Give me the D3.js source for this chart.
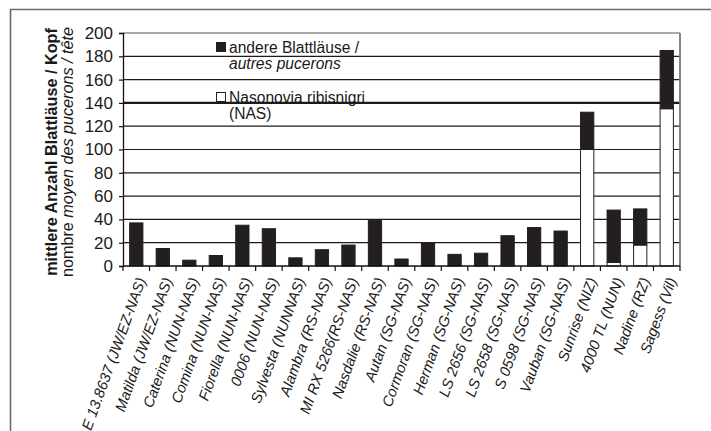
<!DOCTYPE html>
<html><head><meta charset="utf-8">
<script src="https://cdn.jsdelivr.net/npm/d3@7"></script>
<style>
html,body{margin:0;padding:0;background:#fff;}
svg{display:block;font-family:"Liberation Sans",Arial,sans-serif;}
</style></head>
<body><svg id="c" width="711" height="431"></svg>
<script>
const categories = ["E 13.8637 (JW/EZ-NAS)","Matilda (JW/EZ-NAS)","Caterina (NUN-NAS)","Comina (NUN-NAS)","Fiorella (NUN-NAS)","0006 (NUN-NAS)","Sylvesta (NUNNAS)","Alambra (RS-NAS)","MI RX 5266(RS-NAS)","Nasdalie (RS-NAS)","Autan (SG-NAS)","Cormoran (SG-NAS)","Herman (SG-NAS)","LS 2656 (SG-NAS)","LS 2658 (SG-NAS)","S 0598 (SG-NAS)","Vauban (SG-NAS)","Sunrise (NIZ)","4000 TL (NUN)","Nadine (RZ)","Sagess (Vil)"];
const nasValues   = [1,0,0,0,0,0,0,0,0,0,0,0,0,0,1,1,0,100,3,18,135];
const otherValues = [36,15,5,9,35,32,7,14,18,39,6,20,10,11,25,32,30,32,45,31,50];
const yTicks = [0,20,40,60,80,100,120,140,160,180,200];
const seriesNames = ["andere Blattläuse /","autres pucerons","Nasonovia ribisnigri","(NAS)"];

const svg = d3.select("#c");
const L = 123, R = 680, T = 33, B = 266;

// outer frame
svg.append("path").attr("d","M10.5,431 V9.5 H711").attr("fill","none").attr("stroke","#6b6b6b").attr("stroke-width",1.6);

const x = d3.scaleBand().domain(categories).range([L,R]).paddingInner(0.5).paddingOuter(0.25);
const y = d3.scaleLinear().domain([0,200]).range([B,T]);

// gridlines
svg.append("g").selectAll("line").data(yTicks.filter(v=>v>0)).join("line")
  .attr("x1",L).attr("x2",R).attr("y1",d=>y(d)).attr("y2",d=>y(d))
  .attr("stroke",d=>d===200?"#555":"#1a1a1a").attr("stroke-width",d=>d===140?2.4:1.2);

// right border
svg.append("line").attr("x1",R).attr("x2",R).attr("y1",T).attr("y2",B).attr("stroke","#777").attr("stroke-width",1.8);

const data = categories.map((c,i)=>({c, nas:nasValues[i], other:otherValues[i]}));
const stack = d3.stack().keys(["nas","other"])(data);
const fills = {nas:"#ffffff", other:"#231f20"};
svg.append("g").selectAll("g").data(stack).join("g")
  .attr("fill",d=>fills[d.key]).attr("stroke","#231f20").attr("stroke-width",1)
  .selectAll("rect").data(d=>d.filter(p=>p[1]>p[0])).join("rect")
  .attr("x",d=>x(d.data.c)).attr("width",x.bandwidth())
  .attr("y",d=>y(d[1])).attr("height",d=>y(d[0])-y(d[1]));

// y axis
const yAxis = svg.append("g").attr("transform",`translate(${L},0)`)
  .call(d3.axisLeft(y).tickValues(yTicks).tickSize(4).tickPadding(6));
yAxis.select(".domain").attr("stroke","#111").attr("stroke-width",1.3);
yAxis.selectAll(".tick line").attr("stroke","#111").attr("stroke-width",1.2);
yAxis.selectAll("text").attr("font-size",17).attr("fill","#1a1a1a").attr("font-family","Liberation Sans, Arial, sans-serif");

// x axis line + ticks at band boundaries
svg.append("line").attr("x1",L).attr("x2",R).attr("y1",B).attr("y2",B).attr("stroke","#111").attr("stroke-width",1.5);
const step = x.step();
svg.append("g").selectAll("line").data(d3.range(categories.length+1)).join("line")
  .attr("x1",i=>L+i*step).attr("x2",i=>L+i*step).attr("y1",B).attr("y2",B+5)
  .attr("stroke","#111").attr("stroke-width",1.2);

// x labels
svg.append("g").selectAll("text").data(categories).join("text")
  .attr("transform",d=>`translate(${x(d)+x.bandwidth()/2+5},${B+12}) rotate(-70)`)
  .attr("text-anchor","end").attr("dy","0.35em")
  .attr("font-size",14.8).attr("font-style","italic").attr("fill","#1a1a1a")
  .text(d=>d);

// y title
const yt = svg.append("text").attr("transform","translate(57,152) rotate(-90)").attr("text-anchor","middle").attr("fill","#1a1a1a");
yt.append("tspan").attr("x",0).attr("font-weight","bold").attr("font-size",16.2).text("mittlere Anzahl Blattläuse / Kopf");
const t2 = yt.append("tspan").attr("x",0).attr("dy",16).attr("font-size",16.2);
t2.append("tspan").text("nombre ");
t2.append("tspan").attr("font-style","italic").text("moyen des pucerons / tête");

// legend
const lg = svg.append("g").attr("font-size",15.6).attr("fill","#1a1a1a");
lg.append("rect").attr("x",216.5).attr("y",42.5).attr("width",9).attr("height",9).attr("fill","#231f20").attr("stroke","#231f20");
lg.append("text").attr("x",229).attr("y",53).text(seriesNames[0]);
lg.append("text").attr("x",229).attr("y",68.5).attr("font-style","italic").text(seriesNames[1]);
lg.append("rect").attr("x",216.5).attr("y",92.5).attr("width",9).attr("height",9).attr("fill","#fff").attr("stroke","#231f20");
lg.append("text").attr("x",229).attr("y",103).text(seriesNames[2]);
lg.append("text").attr("x",229).attr("y",118.5).text(seriesNames[3]);
</script></body></html>
